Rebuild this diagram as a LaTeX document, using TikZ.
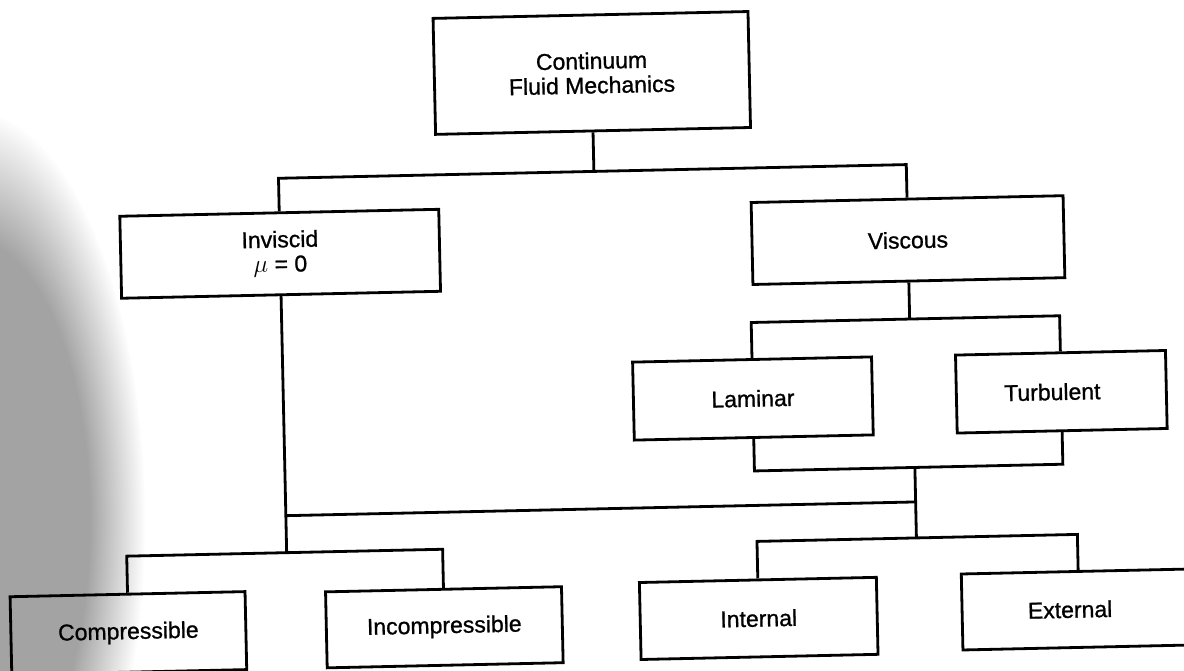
\documentclass[tikz,border=0pt]{standalone}
\usepackage{fontspec}
\setmainfont{Liberation Sans}[FakeBold=1]
\usetikzlibrary{fadings}
\pgfdeclareradialshading{blobshade}{\pgfpointorigin}{color(0bp)=(white); color(17bp)=(white); color(25bp)=(black); color(50bp)=(black)}
\pgfdeclarefading{blob}{\pgfuseshading{blobshade}}
\begin{document}
\begin{tikzpicture}[x=1pt,y=-1pt,
  box/.style={draw, line width=2.8pt, inner sep=0pt, align=center,
    font=\fontsize{23}{24.5}\selectfont},
  conn/.style={line width=2.8pt, line join=miter}]
\useasboundingbox (0,0) rectangle (1184,671);
\clip (0,0) rectangle (1184,671);
\fill[black!36, path fading=blob] (-30,520) ellipse [x radius=175, y radius=410];
\begin{scope}[rotate around={1.25:(592,335)}, transform shape]
\node[box, minimum width=315pt, minimum height=116pt] (top) at (597.5,73) {Continuum\\Fluid Mechanics};
\node[box, minimum width=319pt, minimum height=82pt] (inv) at (282,247) {Inviscid\\$\mu$ = 0};
\node[box, minimum width=312pt, minimum height=82pt] (vis) at (910,247) {Viscous};
\node[box, minimum width=239pt, minimum height=78pt] (lam) at (751.5,402) {Laminar};
\node[box, minimum width=210pt, minimum height=78pt] (tur) at (1060,402) {\hspace*{-18pt}Turbulent};
\node[box, minimum width=235pt, minimum height=78pt] (comp) at (122,623) {Compressible};
\node[box, minimum width=236pt, minimum height=76pt] (inc) at (438,624) {Incompressible};
\node[box, minimum width=237pt, minimum height=77pt] (int) at (752.5,622) {Internal};
\node[box, minimum width=234pt, minimum height=76pt] (ext) at (1073,620) {\hspace*{-18pt}External};
\coordinate (b1) at (597.5,171.5);
\coordinate (b2) at (910,326);
\coordinate (b3) at (912,474.5);
\coordinate (b4) at (912,509);
\coordinate (b5) at (912,545);
\coordinate (b6) at (282,546);
\draw[conn] (top.south) -- (b1);
\draw[conn] (inv.north) |- (b1) -| (vis.north);
\draw[conn] (vis.south) -- (b2);
\draw[conn] (lam.north) |- (b2) -| (tur.north);
\draw[conn] (lam.south) |- (b3) -| (tur.south);
\draw[conn] (b3) -- (b5);
\draw[conn] (inv.south) -- (b6);
\draw[conn] (b6 |- b4) -- (b4);
\draw[conn] (comp.north) |- (b6) -| (inc.north);
\draw[conn] (int.north) |- (b5) -| (ext.north);
\end{scope}
\end{tikzpicture}
\end{document}
